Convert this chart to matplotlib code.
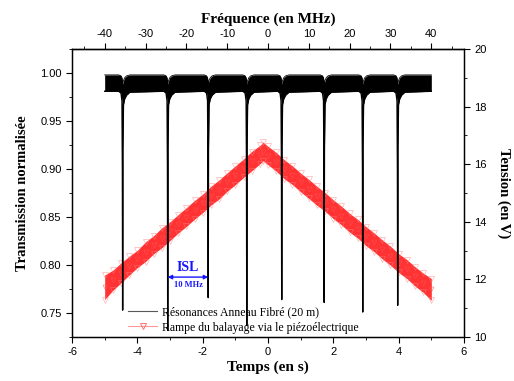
import numpy as np
import matplotlib
matplotlib.use("Agg")
import matplotlib.pyplot as plt
from matplotlib.lines import Line2D
from matplotlib.ticker import MultipleLocator, FormatStrFormatter

# --- black trace: fibre ring resonances (left axis) ---
trace_start, trace_end = -5.0, 5.0
band_hi, band_lo = 0.998, 0.981
dip_t = [-4.45, -3.07, -1.83, -0.65, 0.42, 1.72, 2.90, 3.97]
dip_min = [0.753, 0.732, 0.766, 0.737, 0.764, 0.761, 0.751, 0.758]
# resonance profile read around one dip: offset (s), drop of upper / lower edge
prof_dt = [-0.12, -0.05, -0.02, -0.008, 0.0, 0.008, 0.025, 0.06, 0.12, 0.22]
prof_up = [0.0, 0.001, 0.003, 0.006, 0.010, 0.008, 0.006, 0.003, 0.001, 0.0]
prof_dn = [0.0, 0.002, 0.010, 0.080, None, 0.060, 0.014, 0.008, 0.004, 0.001]

# --- red ramp: piezo scan voltage (right axis), band edges ---
ramp_t = [-5.0, -4.75, -4.5, -4.25, -4.0, -3.75, -3.5, -3.25, -3.0, -2.75,
          -2.5, -2.25, -2.0, -1.75, -1.5, -1.25, -1.0, -0.75, -0.5, -0.25,
          -0.15, 0.0, 0.25, 0.5, 0.75, 1.0, 1.25, 1.5, 1.75, 2.0, 2.25,
          2.5, 2.75, 3.0, 3.25, 3.5, 3.75, 4.0, 4.25, 4.5, 4.75, 5.0]
ramp_hi = [12.15, 12.32, 12.57, 12.80, 13.01, 13.30, 13.52, 13.79, 14.00, 14.25,
           14.49, 14.74, 14.96, 15.23, 15.45, 15.70, 15.94, 16.18, 16.44, 16.65,
           16.76, 16.62, 16.41, 16.15, 15.94, 15.69, 15.47, 15.23, 15.01, 14.76,
           14.54, 14.29, 14.08, 13.83, 13.61, 13.37, 13.15, 12.89, 12.69, 12.44,
           12.22, 12.03]
ramp_lo = [11.30, 11.62, 11.88, 12.15, 12.41, 12.62, 12.89, 13.10, 13.35, 13.61,
           13.84, 14.09, 14.32, 14.58, 14.79, 15.06, 15.29, 15.54, 15.77, 16.01,
           16.12, 15.98, 15.76, 15.49, 15.29, 15.04, 14.81, 14.57, 14.36, 14.11,
           13.89, 13.64, 13.43, 13.17, 12.96, 12.71, 12.49, 12.24, 12.03, 11.77,
           11.55, 11.27]

# ISL annotation between two successive resonances
isl_from, isl_to = -3.07, -1.83

SERIF = "Liberation Serif"
SANS = "Liberation Sans"
BLUE = "#1515ff"

plt.rcParams.update({
    "font.family": SANS,
    "font.size": 8,
    "axes.unicode_minus": False,
    "xtick.direction": "out",
    "ytick.direction": "out",
    "xtick.major.size": 4,
    "ytick.major.size": 4,
    "xtick.minor.size": 2.5,
    "ytick.minor.size": 2.5,
    "axes.linewidth": 0.9,
})


def build_trace():
    t = [trace_start]
    hi = [band_hi]
    lo = [band_lo]
    for td, dm in zip(dip_t, dip_min):
        for dt, du, dd in zip(prof_dt, prof_up, prof_dn):
            t.append(td + dt)
            hi.append(band_hi - du)
            lo.append(dm if dd is None else band_lo - dd)
    t.append(trace_end)
    hi.append(band_hi)
    lo.append(band_lo)
    return np.array(t), np.array(hi), np.array(lo)


fig = plt.figure(figsize=(5.14, 3.81), dpi=100)
ax = fig.add_axes([0.1401, 0.1155, 0.7626, 0.7559])
ax2 = ax.twinx()
ax.set_zorder(ax2.get_zorder() + 1)
ax.patch.set_visible(False)

# ramp on the right axis
rt = np.array(ramp_t)
rh = np.array(ramp_hi)
rl = np.array(ramp_lo)
ax2.fill_between(rt, rl, rh, color="red", alpha=0.8, lw=0)
for yy in (rh, rl):
    ax2.plot(rt, yy, ls="none", marker="v", ms=4.5, mfc="none", mec="#ff8080",
             mew=0.5, alpha=0.6)
ax2.plot(rt, (rh + rl) / 2, ls="none", marker="v", ms=3.5, mfc="none",
         mec="#ff5050", mew=0.5, alpha=0.7)

# resonances on the left axis
tt, th, tl = build_trace()
ax.fill_between(tt, tl, th, color="black", lw=0)
ax.plot(tt, tl, color="black", lw=1.0)
ax.plot(tt, th, color="black", lw=0.6)

# ISL arrow
ax.annotate("", xy=(isl_from, 0.7874), xytext=(isl_to, 0.7874),
            arrowprops=dict(arrowstyle="<|-|>", color=BLUE, lw=1.0,
                            mutation_scale=6, shrinkA=0, shrinkB=0))
ax.text((isl_from + isl_to) / 2, 0.7975, "ISL", color=BLUE, fontsize=10,
        fontweight="bold", family=SERIF, ha="center", va="center")
ax.text((isl_from + isl_to) / 2, 0.7795, "10 MHz", color=BLUE, fontsize=6,
        fontweight="bold", family=SERIF, ha="center", va="center")

# axes limits and ticks
ax.set_xlim(-6, 6)
ax.set_ylim(0.725, 1.025)
ax2.set_ylim(10, 20)
ax.xaxis.set_major_locator(MultipleLocator(2))
ax.xaxis.set_minor_locator(MultipleLocator(1))
ax.yaxis.set_major_locator(MultipleLocator(0.05))
ax.yaxis.set_minor_locator(MultipleLocator(0.025))
ax.yaxis.set_major_formatter(FormatStrFormatter("%.2f"))
ax2.yaxis.set_major_locator(MultipleLocator(2))
ax2.yaxis.set_minor_locator(MultipleLocator(1))

top = ax.secondary_xaxis("top", functions=(lambda x: x * 8, lambda x: x / 8))
top.xaxis.set_minor_locator(MultipleLocator(5))
top.set_xticks(range(-40, 41, 10))

ax.set_xlabel("Temps (en s)", family=SERIF, fontweight="bold", fontsize=11,
              labelpad=2)
ax.set_ylabel("Transmission normalisée", family=SERIF, fontweight="bold",
              fontsize=10.5, labelpad=8)
ax2.set_ylabel("Tension (en V)", family=SERIF, fontweight="bold",
               fontsize=10.5, rotation=-90, labelpad=17)
top.set_xlabel("Fréquence (en MHz)", family=SERIF, fontweight="bold",
               fontsize=11, labelpad=4)

handles = [
    Line2D([], [], color="0.35", lw=0.8),
    Line2D([], [], color="#ff9a9a", lw=0.8, marker="v", ms=4, mfc="none",
           mec="#ff6060", mew=0.6),
]
labels = ["Résonances Anneau Fibré (20 m)",
          "Rampe du balayage via le piézoélectrique"]
ax.legend(handles, labels, loc="lower left", bbox_to_anchor=(0.117, -0.025),
          frameon=False, prop={"family": SERIF, "size": 8.5},
          handlelength=2.4, handletextpad=0.4, labelspacing=0.25)

fig.savefig("out.png", dpi=100, facecolor="white")
